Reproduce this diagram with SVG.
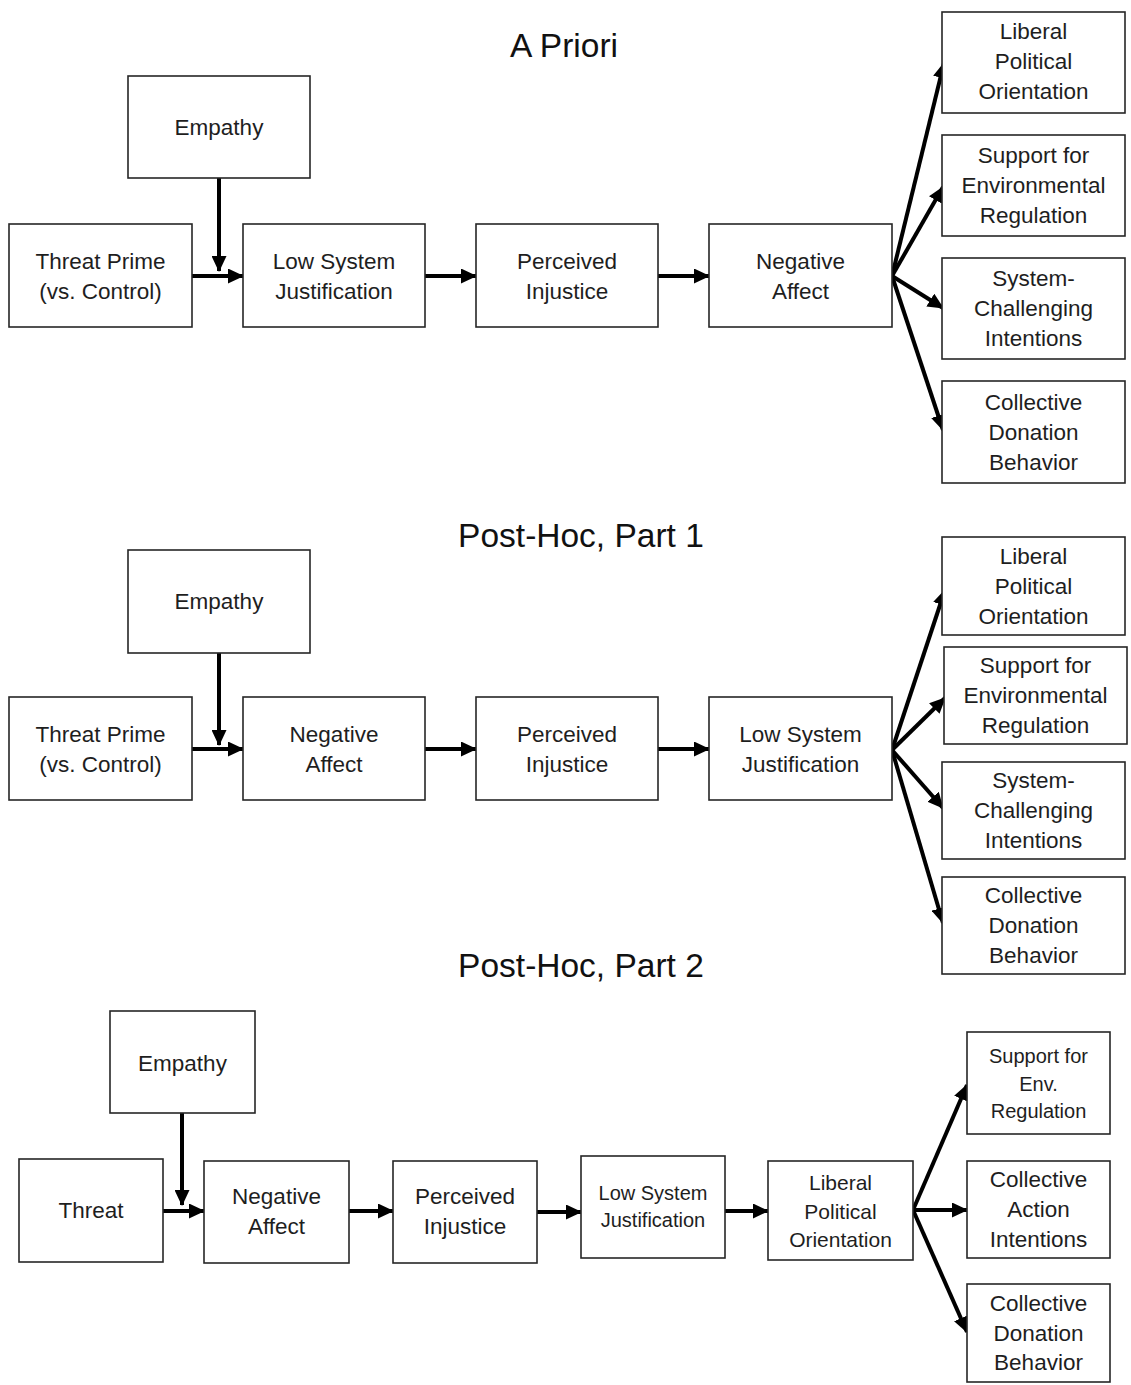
<svg xmlns="http://www.w3.org/2000/svg" width="1131" height="1385" viewBox="0 0 1131 1385">
<style>
.box{fill:#fff;stroke:#262626;stroke-width:1.6}
.t{font-family:"Liberation Sans",Arial,sans-serif;font-size:22.5px;fill:#1e1e1e;text-anchor:middle}
.s{font-size:20px}
.m{font-size:21px}
.title{font-family:"Liberation Sans",Arial,sans-serif;font-size:33.5px;fill:#111;text-anchor:middle}
.a{stroke:#000;stroke-width:4;fill:none;marker-end:url(#ah)}
</style>
<defs>
<marker id="ah" markerUnits="userSpaceOnUse" markerWidth="16" markerHeight="15" refX="15" refY="7.5" orient="auto" viewBox="0 0 16 15">
<path d="M0,0 L16,7.5 L0,15 z" fill="#000"/>
</marker>
</defs>
<rect width="1131" height="1385" fill="#fff"/>

<g id="titles">
<text class="title" x="564" y="57">A Priori</text>
<text class="title" x="581" y="547">Post-Hoc, Part 1</text>
<text class="title" x="581" y="977">Post-Hoc, Part 2</text>
</g>

<g id="connectors">
<!-- section 1 -->
<line class="a" x1="219" y1="178" x2="219" y2="271"/>
<line class="a" x1="192" y1="276" x2="243" y2="276"/>
<line class="a" x1="425" y1="276" x2="476" y2="276"/>
<line class="a" x1="658" y1="276" x2="709" y2="276"/>
<line class="a" x1="892" y1="276" x2="944" y2="63"/>
<line class="a" x1="892" y1="276" x2="943" y2="187"/>
<line class="a" x1="892" y1="276" x2="943" y2="308"/>
<line class="a" x1="892" y1="276" x2="943" y2="430"/>
<!-- section 2 -->
<line class="a" x1="219" y1="653" x2="219" y2="745"/>
<line class="a" x1="192" y1="749" x2="243" y2="749"/>
<line class="a" x1="425" y1="749" x2="476" y2="749"/>
<line class="a" x1="658" y1="749" x2="709" y2="749"/>
<line class="a" x1="892" y1="750" x2="945" y2="590"/>
<line class="a" x1="892" y1="750" x2="945" y2="698"/>
<line class="a" x1="892" y1="750" x2="943" y2="808"/>
<line class="a" x1="892" y1="750" x2="943" y2="923"/>
<!-- section 3 -->
<line class="a" x1="182" y1="1113" x2="182" y2="1205"/>
<line class="a" x1="163" y1="1211" x2="204" y2="1211"/>
<line class="a" x1="349" y1="1211" x2="393" y2="1211"/>
<line class="a" x1="537" y1="1212" x2="581" y2="1212"/>
<line class="a" x1="725" y1="1211" x2="768" y2="1211"/>
<line class="a" x1="913" y1="1210" x2="967" y2="1085"/>
<line class="a" x1="913" y1="1210" x2="967" y2="1210"/>
<line class="a" x1="913" y1="1210" x2="967" y2="1332"/>
</g>

<!-- Section 1 nodes -->
<g id="s1-empathy"><rect class="box" x="128" y="76" width="182" height="102"/><text class="t" x="219" y="135">Empathy</text></g>
<g id="s1-threat"><rect class="box" x="9" y="224" width="183" height="103"/><text class="t" x="100.5" y="268.5">Threat Prime</text><text class="t" x="100.5" y="298.5">(vs. Control)</text></g>
<g id="s1-lowsj"><rect class="box" x="243" y="224" width="182" height="103"/><text class="t" x="334" y="268.5">Low System</text><text class="t" x="334" y="298.5">Justification</text></g>
<g id="s1-injustice"><rect class="box" x="476" y="224" width="182" height="103"/><text class="t" x="567" y="268.5">Perceived</text><text class="t" x="567" y="298.5">Injustice</text></g>
<g id="s1-negaffect"><rect class="box" x="709" y="224" width="183" height="103"/><text class="t" x="800.5" y="268.5">Negative</text><text class="t" x="800.5" y="298.5">Affect</text></g>
<g id="s1-liberal"><rect class="box" x="942" y="12" width="183" height="101"/><text class="t" x="1033.5" y="39">Liberal</text><text class="t" x="1033.5" y="69">Political</text><text class="t" x="1033.5" y="99">Orientation</text></g>
<g id="s1-envreg"><rect class="box" x="942" y="135" width="183" height="101"/><text class="t" x="1033.5" y="163">Support for</text><text class="t" x="1033.5" y="193">Environmental</text><text class="t" x="1033.5" y="223">Regulation</text></g>
<g id="s1-syschal"><rect class="box" x="942" y="258" width="183" height="101"/><text class="t" x="1033.5" y="286">System-</text><text class="t" x="1033.5" y="316">Challenging</text><text class="t" x="1033.5" y="346">Intentions</text></g>
<g id="s1-donation"><rect class="box" x="942" y="381" width="183" height="102"/><text class="t" x="1033.5" y="410">Collective</text><text class="t" x="1033.5" y="440">Donation</text><text class="t" x="1033.5" y="470">Behavior</text></g>

<!-- Section 2 nodes -->
<g id="s2-empathy"><rect class="box" x="128" y="550" width="182" height="103"/><text class="t" x="219" y="609">Empathy</text></g>
<g id="s2-threat"><rect class="box" x="9" y="697" width="183" height="103"/><text class="t" x="100.5" y="741.5">Threat Prime</text><text class="t" x="100.5" y="771.5">(vs. Control)</text></g>
<g id="s2-negaffect"><rect class="box" x="243" y="697" width="182" height="103"/><text class="t" x="334" y="741.5">Negative</text><text class="t" x="334" y="771.5">Affect</text></g>
<g id="s2-injustice"><rect class="box" x="476" y="697" width="182" height="103"/><text class="t" x="567" y="741.5">Perceived</text><text class="t" x="567" y="771.5">Injustice</text></g>
<g id="s2-lowsj"><rect class="box" x="709" y="697" width="183" height="103"/><text class="t" x="800.5" y="741.5">Low System</text><text class="t" x="800.5" y="771.5">Justification</text></g>
<g id="s2-liberal"><rect class="box" x="942" y="537" width="183" height="98"/><text class="t" x="1033.5" y="564">Liberal</text><text class="t" x="1033.5" y="594">Political</text><text class="t" x="1033.5" y="624">Orientation</text></g>
<g id="s2-envreg"><rect class="box" x="944" y="647" width="183" height="97"/><text class="t" x="1035.5" y="673">Support for</text><text class="t" x="1035.5" y="703">Environmental</text><text class="t" x="1035.5" y="733">Regulation</text></g>
<g id="s2-syschal"><rect class="box" x="942" y="762" width="183" height="97"/><text class="t" x="1033.5" y="788">System-</text><text class="t" x="1033.5" y="818">Challenging</text><text class="t" x="1033.5" y="848">Intentions</text></g>
<g id="s2-donation"><rect class="box" x="942" y="877" width="183" height="97"/><text class="t" x="1033.5" y="903">Collective</text><text class="t" x="1033.5" y="933">Donation</text><text class="t" x="1033.5" y="963">Behavior</text></g>

<!-- Section 3 nodes -->
<g id="s3-empathy"><rect class="box" x="110" y="1011" width="145" height="102"/><text class="t" x="182.5" y="1071">Empathy</text></g>
<g id="s3-threat"><rect class="box" x="19" y="1159" width="144" height="103"/><text class="t" x="91" y="1218">Threat</text></g>
<g id="s3-negaffect"><rect class="box" x="204" y="1161" width="145" height="102"/><text class="t" x="276.5" y="1204">Negative</text><text class="t" x="276.5" y="1234">Affect</text></g>
<g id="s3-injustice"><rect class="box" x="393" y="1161" width="144" height="102"/><text class="t" x="465" y="1204">Perceived</text><text class="t" x="465" y="1234">Injustice</text></g>
<g id="s3-lowsj"><rect class="box" x="581" y="1156" width="144" height="102"/><text class="t s" x="653" y="1200">Low System</text><text class="t s" x="653" y="1227">Justification</text></g>
<g id="s3-liberal"><rect class="box" x="768" y="1161" width="145" height="99"/><text class="t m" x="840.5" y="1190">Liberal</text><text class="t m" x="840.5" y="1218.5">Political</text><text class="t m" x="840.5" y="1247">Orientation</text></g>
<g id="s3-envreg"><rect class="box" x="967" y="1032" width="143" height="102"/><text class="t s" x="1038.5" y="1063">Support for</text><text class="t s" x="1038.5" y="1091">Env.</text><text class="t s" x="1038.5" y="1118">Regulation</text></g>
<g id="s3-action"><rect class="box" x="967" y="1161" width="143" height="97"/><text class="t" x="1038.5" y="1187">Collective</text><text class="t" x="1038.5" y="1217">Action</text><text class="t" x="1038.5" y="1247">Intentions</text></g>
<g id="s3-donation"><rect class="box" x="967" y="1284" width="143" height="98"/><text class="t" x="1038.5" y="1311">Collective</text><text class="t" x="1038.5" y="1341">Donation</text><text class="t" x="1038.5" y="1370">Behavior</text></g>
</svg>
